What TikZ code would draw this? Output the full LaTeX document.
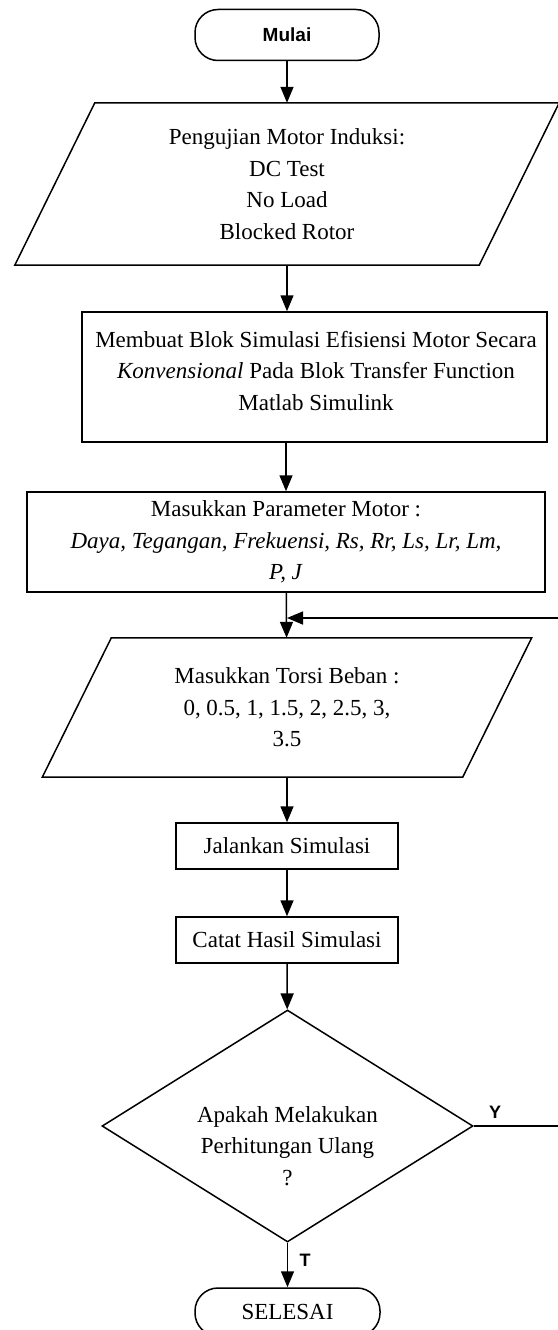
\documentclass[tikz,border=0pt]{standalone}
\usepackage{fontspec}
\setmainfont{Liberation Serif}
\newfontfamily\arialf{Liberation Sans}
\usetikzlibrary{arrows.meta,shapes.geometric,calc}
\begin{document}
\begin{tikzpicture}[x=1pt,y=-1pt,
  every node/.style={font=\fontsize{23}{31.5}\selectfont, align=center, inner sep=0pt},
  line/.style={line width=1.5pt},
  arr/.style={line width=1.5pt, -{Triangle[length=16pt,width=13pt]}},
  box/.style={draw, line width=1.5pt, rectangle},
  term/.style={draw, line width=1.5pt, rectangle, rounded corners=23pt},
  ghost/.style={rectangle},
  lab/.style={font=\arialf\bfseries\fontsize{18}{20}\selectfont},
]
\useasboundingbox (0,0) rectangle (557,1330);

% nodes
\node[term, minimum width=184pt, minimum height=51pt, font=\arialf\bfseries\fontsize{19}{22}\selectfont] (start) at (287,35) {Mulai};

\node[ghost, minimum width=464pt, minimum height=162pt] (p1) at (287,184)
  {Pengujian Motor Induksi:\\DC Test\\No Load\\Blocked Rotor};
\draw[line] ([xshift=40pt]p1.north west) -- ([xshift=40pt]p1.north east)
  -- ([xshift=-40pt]p1.south east) -- ([xshift=-40pt]p1.south west) -- cycle;

\node[box, minimum width=465pt, minimum height=130pt] (r2) at (314.5,377) {};
\node (r2t) at (316,371) {Membuat Blok Simulasi Efisiensi Motor Secara\\
  \textit{Konvensional} Pada Blok Transfer Function\\Matlab Simulink};

\node[box, minimum width=518pt, minimum height=100pt] (r3) at (286,542)
  {Masukkan Parameter Motor :\\
   \textit{Daya, Tegangan, Frekuensi, Rs, Rr, Ls, Lr, Lm,}\\\textit{P, J}};

\coordinate (loopin) at (287,618);

\node[ghost, minimum width=420pt, minimum height=139pt] (p2) at (287,707.5)
  {Masukkan Torsi Beban :\\0, 0.5, 1, 1.5, 2, 2.5, 3,\\3.5};
\draw[line] ([xshift=34.5pt]p2.north west) -- ([xshift=34.5pt]p2.north east)
  -- ([xshift=-34.5pt]p2.south east) -- ([xshift=-34.5pt]p2.south west) -- cycle;

\node[box, minimum width=222pt, minimum height=46pt] (r4) at (287,846) {Jalankan Simulasi};
\node[box, minimum width=222pt, minimum height=46pt] (r5) at (287,940) {Catat Hasil Simulasi};

\node[draw, diamond, line width=1.5pt, minimum width=371pt, minimum height=232pt] (d) at (287.5,1126) {};
\node (dt) at (287.5,1146) {Apakah Melakukan\\Perhitungan Ulang\\?};

\node[term, minimum width=185pt, minimum height=48pt] (end) at (287.5,1312) {SELESAI};

\coordinate (cr) at (558.5,1126);
\coordinate (ct) at (558.5,618);

% connectors
\draw[arr] (start) -- (p1);
\draw[arr] (p1.south) -- (p1.south |- r2.north);
\draw[arr] (r2.south -| r3.north) -- (r3.north);
\draw[arr] (r3) -- (p2);
\draw[arr] (p2) -- (r4);
\draw[arr] (r4) -- (r5);
\draw[arr] (r5) -- (d);
\draw[arr] (d) -- (end);
\draw[arr] (d.east) -- (cr) -- (ct) -- (loopin);

\node[lab] (ylab) at (495,1112) {Y};
\node[lab] (tlab) at (305,1260) {T};
\end{tikzpicture}
\end{document}
